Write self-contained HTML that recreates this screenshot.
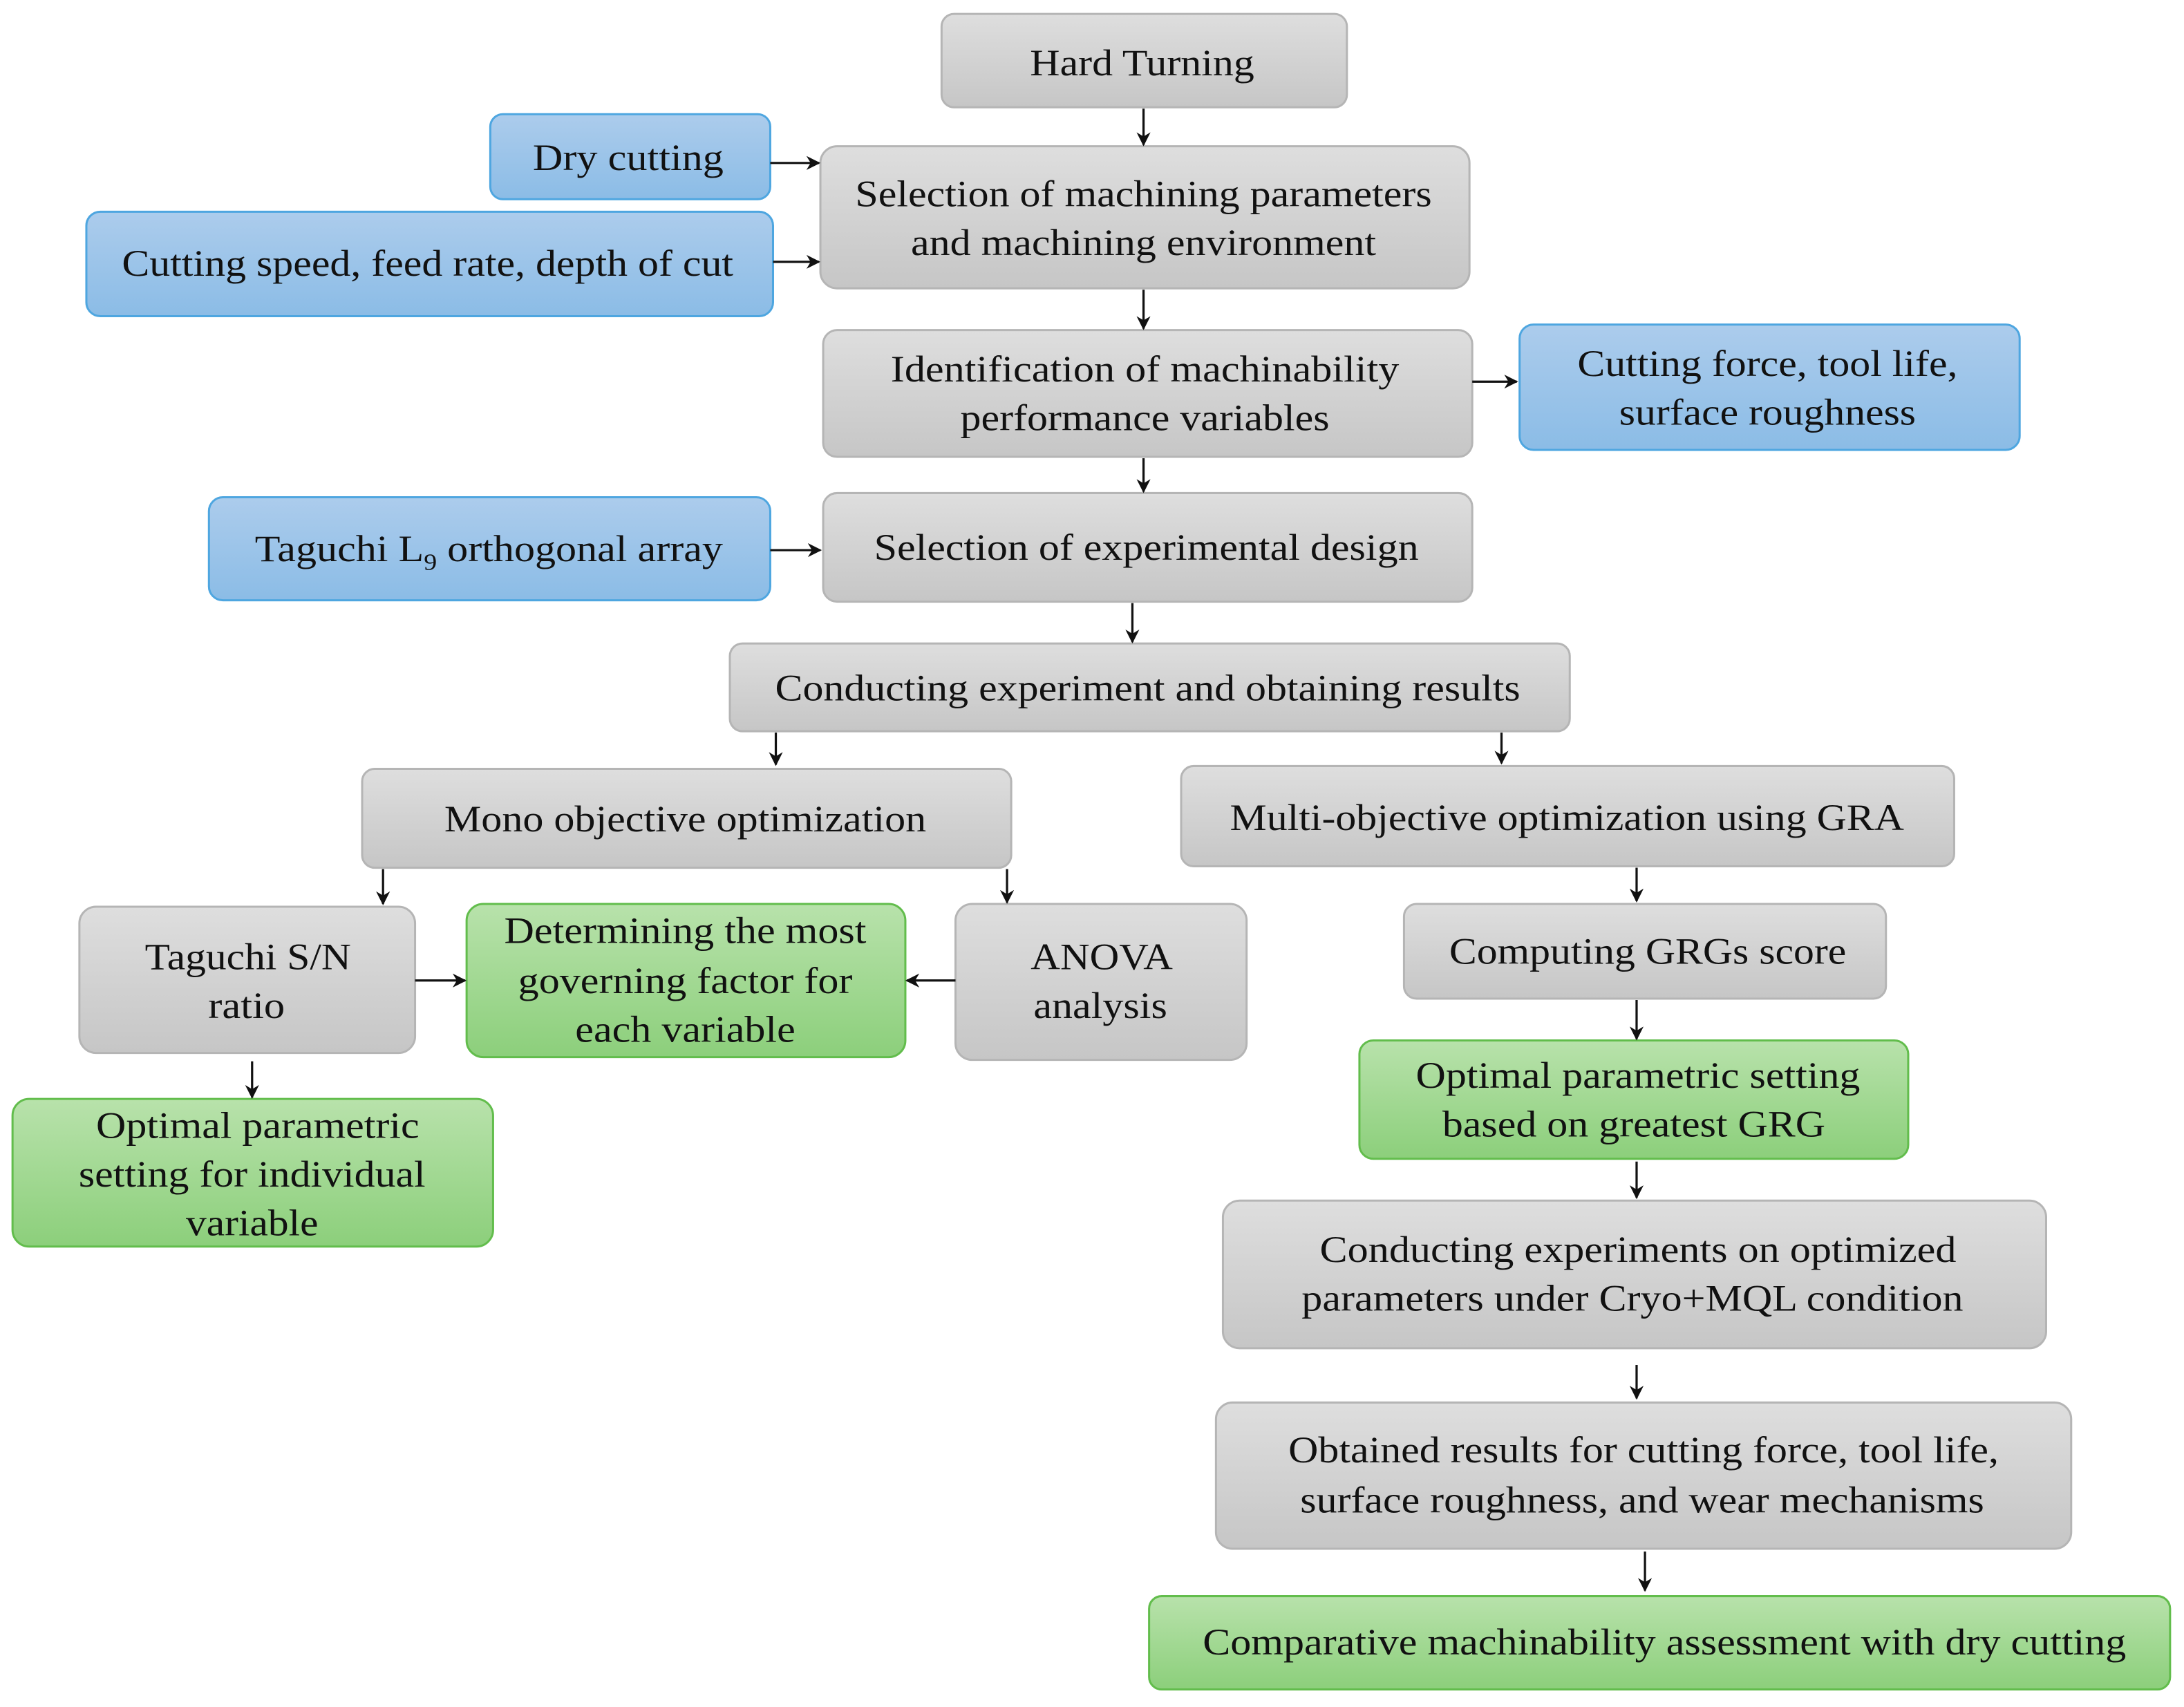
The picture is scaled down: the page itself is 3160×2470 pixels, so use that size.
<!DOCTYPE html>
<html><head><meta charset="utf-8"><style>html,body{margin:0;padding:0;background:#fff}svg{display:block}text{font-size:27px;fill:#111;text-anchor:middle}</style></head><body>
<svg width="3160" height="2470" viewBox="0 0 1568 1225.6" xmlns="http://www.w3.org/2000/svg" font-family="'Liberation Serif', 'Times New Roman', serif">
<defs>
<linearGradient id="g" x1="0" y1="0" x2="0" y2="1"><stop offset="0" stop-color="#dedede"/><stop offset="1" stop-color="#c6c6c6"/></linearGradient>
<linearGradient id="b" x1="0" y1="0" x2="0" y2="1"><stop offset="0" stop-color="#acccec"/><stop offset="1" stop-color="#8bbce6"/></linearGradient>
<linearGradient id="gr" x1="0" y1="0" x2="0" y2="1"><stop offset="0" stop-color="#b8e2ab"/><stop offset="1" stop-color="#8ccf7b"/></linearGradient>
<marker id="a" markerWidth="10" markerHeight="10" refX="9" refY="5" orient="auto" markerUnits="userSpaceOnUse"><path d="M0,0 L10,5 L0,10 L3,5 z" fill="#111"/></marker>
</defs>
<g stroke-width="1.5">
<rect x="676" y="10" width="291" height="67" rx="9" fill="url(#g)" stroke="#b5b5b5"/>
<rect x="352" y="82" width="201" height="61" rx="9" fill="url(#b)" stroke="#4ea6e0"/>
<rect x="589" y="105" width="466" height="102" rx="12" fill="url(#g)" stroke="#b5b5b5"/>
<rect x="62" y="152" width="493" height="75" rx="10" fill="url(#b)" stroke="#4ea6e0"/>
<rect x="591" y="237" width="466" height="91" rx="10" fill="url(#g)" stroke="#b5b5b5"/>
<rect x="1091" y="233" width="359" height="90" rx="10" fill="url(#b)" stroke="#4ea6e0"/>
<rect x="150" y="357" width="403" height="74" rx="10" fill="url(#b)" stroke="#4ea6e0"/>
<rect x="591" y="354" width="466" height="78" rx="10" fill="url(#g)" stroke="#b5b5b5"/>
<rect x="524" y="462" width="603" height="63" rx="9" fill="url(#g)" stroke="#b5b5b5"/>
<rect x="260" y="552" width="466" height="71" rx="9" fill="url(#g)" stroke="#b5b5b5"/>
<rect x="848" y="550" width="555" height="72" rx="9" fill="url(#g)" stroke="#b5b5b5"/>
<rect x="57" y="651" width="241" height="105" rx="12" fill="url(#g)" stroke="#b5b5b5"/>
<rect x="335" y="649" width="315" height="110" rx="12" fill="url(#gr)" stroke="#62bd4c"/>
<rect x="686" y="649" width="209" height="112" rx="12" fill="url(#g)" stroke="#b5b5b5"/>
<rect x="1008" y="649" width="346" height="68" rx="9" fill="url(#g)" stroke="#b5b5b5"/>
<rect x="9" y="789" width="345" height="106" rx="12" fill="url(#gr)" stroke="#62bd4c"/>
<rect x="976" y="747" width="394" height="85" rx="10" fill="url(#gr)" stroke="#62bd4c"/>
<rect x="878" y="862" width="591" height="106" rx="12" fill="url(#g)" stroke="#b5b5b5"/>
<rect x="873" y="1007" width="614" height="105" rx="12" fill="url(#g)" stroke="#b5b5b5"/>
<rect x="825" y="1146" width="733" height="67" rx="9" fill="url(#gr)" stroke="#62bd4c"/>
</g>
<g stroke="#111" stroke-width="1.6" marker-end="url(#a)">
<line x1="821" y1="78" x2="821" y2="104"/>
<line x1="553" y1="117" x2="588" y2="117"/>
<line x1="555" y1="188" x2="588" y2="188"/>
<line x1="821" y1="208" x2="821" y2="236"/>
<line x1="1057" y1="274" x2="1089" y2="274"/>
<line x1="821" y1="329" x2="821" y2="353"/>
<line x1="553" y1="395" x2="589" y2="395"/>
<line x1="813" y1="433" x2="813" y2="461"/>
<line x1="557" y1="526" x2="557" y2="549"/>
<line x1="1078" y1="526" x2="1078" y2="548"/>
<line x1="275" y1="624" x2="275" y2="649"/>
<line x1="723" y1="624" x2="723" y2="648"/>
<line x1="298" y1="704" x2="334" y2="704"/>
<line x1="686" y1="704" x2="651" y2="704"/>
<line x1="1175" y1="623" x2="1175" y2="647"/>
<line x1="1175" y1="718" x2="1175" y2="746"/>
<line x1="181" y1="762" x2="181" y2="788"/>
<line x1="1175" y1="834" x2="1175" y2="860"/>
<line x1="1175" y1="980" x2="1175" y2="1004"/>
<line x1="1181" y1="1114" x2="1181" y2="1142"/>
</g>
<g lengthAdjust="spacingAndGlyphs">
<text x="820" y="54" textLength="161" lengthAdjust="spacingAndGlyphs">Hard Turning</text>
<text x="451" y="122" textLength="137" lengthAdjust="spacingAndGlyphs">Dry cutting</text>
<text x="821" y="148" textLength="414" lengthAdjust="spacingAndGlyphs">Selection of machining parameters</text>
<text x="821" y="183" textLength="334" lengthAdjust="spacingAndGlyphs">and machining environment</text>
<text x="307" y="198" textLength="439" lengthAdjust="spacingAndGlyphs">Cutting speed, feed rate, depth of cut</text>
<text x="822" y="274" textLength="365" lengthAdjust="spacingAndGlyphs">Identification of machinability</text>
<text x="822" y="309" textLength="265" lengthAdjust="spacingAndGlyphs">performance variables</text>
<text x="1269" y="270" textLength="273" lengthAdjust="spacingAndGlyphs">Cutting force, tool life,</text>
<text x="1269" y="305" textLength="213" lengthAdjust="spacingAndGlyphs">surface roughness</text>
<text x="351" y="403" textLength="336" lengthAdjust="spacingAndGlyphs">Taguchi L<tspan font-size="17" dy="6">9</tspan><tspan dy="-6"> orthogonal array</tspan></text>
<text x="823" y="402" textLength="391" lengthAdjust="spacingAndGlyphs">Selection of experimental design</text>
<text x="824" y="503" textLength="535" lengthAdjust="spacingAndGlyphs">Conducting experiment and obtaining results</text>
<text x="492" y="597" textLength="346" lengthAdjust="spacingAndGlyphs">Mono objective optimization</text>
<text x="1125" y="596" textLength="484" lengthAdjust="spacingAndGlyphs">Multi-objective optimization using GRA</text>
<text x="178" y="696" textLength="148" lengthAdjust="spacingAndGlyphs">Taguchi S/N</text>
<text x="177" y="731" textLength="55" lengthAdjust="spacingAndGlyphs">ratio</text>
<text x="492" y="677" textLength="260" lengthAdjust="spacingAndGlyphs">Determining the most</text>
<text x="492" y="713" textLength="240" lengthAdjust="spacingAndGlyphs">governing factor for</text>
<text x="492" y="748" textLength="158" lengthAdjust="spacingAndGlyphs">each variable</text>
<text x="791" y="696" textLength="102" lengthAdjust="spacingAndGlyphs">ANOVA</text>
<text x="790" y="731" textLength="96" lengthAdjust="spacingAndGlyphs">analysis</text>
<text x="1183" y="692" textLength="285" lengthAdjust="spacingAndGlyphs">Computing GRGs score</text>
<text x="1176" y="781" textLength="319" lengthAdjust="spacingAndGlyphs">Optimal parametric setting</text>
<text x="1173" y="816" textLength="275" lengthAdjust="spacingAndGlyphs">based on greatest GRG</text>
<text x="185" y="817" textLength="232" lengthAdjust="spacingAndGlyphs">Optimal parametric</text>
<text x="181" y="852" textLength="249" lengthAdjust="spacingAndGlyphs">setting for individual</text>
<text x="181" y="887" textLength="95" lengthAdjust="spacingAndGlyphs">variable</text>
<text x="1176" y="906" textLength="457" lengthAdjust="spacingAndGlyphs">Conducting experiments on optimized</text>
<text x="1172" y="941" textLength="475" lengthAdjust="spacingAndGlyphs">parameters under Cryo+MQL condition</text>
<text x="1180" y="1050" textLength="510" lengthAdjust="spacingAndGlyphs">Obtained results for cutting force, tool life,</text>
<text x="1179" y="1086" textLength="491" lengthAdjust="spacingAndGlyphs">surface roughness, and wear mechanisms</text>
<text x="1195" y="1188" textLength="663" lengthAdjust="spacingAndGlyphs">Comparative machinability assessment with dry cutting</text>
</g>
</svg>
</body></html>
